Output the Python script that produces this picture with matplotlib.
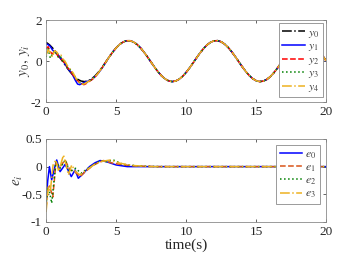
import matplotlib
matplotlib.use("Agg")
import matplotlib.pyplot as plt
import numpy as np

plt.rcParams["font.family"] = ["Liberation Serif", "DejaVu Serif"]
plt.rcParams["mathtext.fontset"] = "stix"

BLUE = "#0000ff"; RED = "#ff0000"; GREEN = "#008000"; YEL = "#edb120"; ORG = "#d95319"
DARK = "#262626"; EDGE = "#8a8a8a"

# reference y0, sampled every 0.25 s
t = np.arange(0, 20.01, 0.25)
y0 = [0.917, 0.791, 0.614, 0.400, 0.161, -0.088, -0.332, -0.555, -0.744, -0.886,
      -0.973, -1.000, -0.964, -0.869, -0.720, -0.525, -0.299, -0.053, 0.196, 0.432,
      0.642, 0.812, 0.931, 0.992, 0.992, 0.930, 0.810, 0.640, 0.430, 0.194,
      -0.055, -0.301, -0.527, -0.722, -0.870, -0.965, -1.000, -0.973, -0.885, -0.742,
      -0.553, -0.330, -0.086, 0.163, 0.402, 0.616, 0.792, 0.918, 0.988, 0.996,
      0.942, 0.829, 0.665, 0.459, 0.226, -0.022, -0.269, -0.498, -0.698, -0.853,
      -0.957, -0.999, -0.979, -0.899, -0.766, -0.581, -0.362, -0.119, 0.130, 0.371,
      0.589, 0.771, 0.905, 0.982, 0.998, 0.952, 0.847, 0.690, 0.489, 0.259, 0.011]

# followers, transient part (afterwards they sit on y0)
tt = [0, 0.15, 0.3, 0.45, 0.6, 0.75, 0.9, 1.05, 1.2, 1.35, 1.5, 1.65, 1.8, 1.95,
      2.1, 2.25, 2.4, 2.55, 2.7, 2.85, 3.0, 3.25, 3.5, 3.75, 4.0, 4.25]
y1 = [0.85, 0.80, 0.72, 0.55, 0.45, 0.42, 0.25, 0.12, 0.05, -0.15, -0.30, -0.45, -0.55,
      -0.75, -0.95, -1.12, -1.15, -1.10, -1.05, -1.0, -0.98, -0.90, -0.76, -0.57, -0.34, -0.08]
y2 = [0.6, 0.7, 0.45, 0.35, 0.45, 0.35, 0.2, 0.15, 0.0, -0.1, -0.3, -0.4, -0.55,
      -0.7, -0.85, -0.95, -1.05, -1.1, -1.15, -1.1, -1.02, -0.92, -0.77, -0.56, -0.32, -0.06]
y3 = [0.2, 0.6, 0.15, 0.35, 0.5, 0.35, 0.15, 0.2, 0.0, -0.05, -0.3, -0.35, -0.5,
      -0.65, -0.8, -0.95, -1.05, -1.1, -1.1, -1.08, -1.0, -0.9, -0.75, -0.55, -0.32, -0.07]
y4 = [0.3, 0.55, 0.4, 0.2, 0.5, 0.45, 0.3, 0.3, 0.1, 0.0, -0.2, -0.35, -0.45,
      -0.6, -0.8, -0.95, -1.05, -1.12, -1.12, -1.06, -1.0, -0.9, -0.76, -0.56, -0.32, -0.07]

# errors
te0 = [0, 0.12, 0.24, 0.4, 0.58, 0.76, 1.0, 1.2, 1.36, 1.6, 1.8, 2.07, 2.3, 2.67, 3.1, 3.5, 3.86, 4.3, 5.0, 5.8, 7, 20]
e0 = [-0.63, -0.25, 0.0, -0.24, -0.05, 0.12, -0.09, -0.02, 0.04, -0.08, -0.18, -0.06, -0.21, -0.12,
      0.0, 0.07, 0.11, 0.09, 0.03, 0.0, 0.0, 0.0]
te1 = [0, 0.12, 0.25, 0.48, 0.7, 1.0, 1.36, 1.7, 2.0, 2.43, 2.8, 3.4, 4.1, 4.8, 5.6, 6.5, 8, 20]
e1 = [-0.73, -0.4, -0.35, -0.55, 0.06, 0.0, 0.12, -0.06, -0.08, -0.18, -0.09, 0.03, 0.11, 0.06,
      0.03, 0.01, 0.0, 0.0]
te2 = [0, 0.1, 0.24, 0.4, 0.55, 0.7, 1.0, 1.36, 1.7, 2.1, 2.5, 3.0, 3.86, 4.3, 4.8, 5.5, 6.7, 8, 20]
e2 = [-0.7, -0.4, -0.45, -0.66, -0.3, 0.09, -0.03, 0.12, -0.09, -0.03, -0.12, -0.03, 0.1, 0.09,
      0.12, 0.04, 0.01, 0.0, 0.0]
te3 = [0, 0.17, 0.3, 0.5, 0.7, 0.9, 1.24, 1.43, 1.6, 1.83, 2.1, 2.43, 2.9, 3.4, 3.86, 4.6, 5.3, 6.2, 7.5, 20]
e3 = [-0.82, -0.36, -0.45, 0.03, 0.12, -0.09, 0.21, 0.03, -0.15, 0.03, -0.09, -0.15, -0.06, 0.03,
      0.09, 0.12, 0.06, 0.02, 0.0, 0.0]


def style(ax):
    ax.tick_params(direction="in", top=True, right=True, labelsize=9.5, length=2.5,
                   color=DARK, labelcolor=DARK, width=0.5, pad=3)
    for s in ax.spines.values():
        s.set_color(EDGE); s.set_linewidth(0.6)
    ax.set_xlim(0, 20); ax.set_xticks([0, 5, 10, 15, 20])


def legend(ax, pad):
    lg = ax.legend(loc="upper right", fontsize=8.5, handlelength=1.9, labelspacing=0.05,
                   borderpad=0.3, handletextpad=0.3, fancybox=False, edgecolor=EDGE,
                   framealpha=1, borderaxespad=pad)
    lg.get_frame().set_linewidth(0.6)
    for tx in lg.get_texts():
        tx.set_color("#404040")


fig = plt.figure(figsize=(3.6, 2.54), dpi=100)
ax1 = fig.add_axes([0.128, 0.598, 0.778, 0.323])
ax2 = fig.add_axes([0.128, 0.126, 0.778, 0.327])

tail = list(t[18:]); y0t = y0[18:]
lw = 1.1
ax1.plot(t, y0, color="black", ls="-.", lw=lw, label="$y_0$")
ax1.plot(tt + tail, y1 + y0t, color=BLUE, ls="-", lw=lw, label="$y_1$")
ax1.plot(tt + tail, y2 + y0t, color=RED, ls="--", lw=lw, label="$y_2$")
ax1.plot(tt + tail, y3 + y0t, color=GREEN, ls=":", lw=lw, label="$y_3$")
ax1.plot(tt + tail, y4 + y0t, color=YEL, ls="-.", lw=lw, label="$y_4$")
ax1.set_ylim(-2, 2); ax1.set_yticks([-2, 0, 2]); ax1.set_yticklabels(["-2", "0", "2"])
ax1.set_ylabel("$y_0,\\, y_i$", fontsize=11, color="#404040", labelpad=-1)
style(ax1)
legend(ax1, 0.25)

ax2.plot(te0, e0, color=BLUE, ls="-", lw=lw, label="$e_0$")
ax2.plot(te1, e1, color=ORG, ls="--", lw=lw, label="$e_1$")
ax2.plot(te2, e2, color=GREEN, ls=":", lw=lw, label="$e_2$")
ax2.plot(te3, e3, color=YEL, ls="-.", lw=lw, label="$e_3$")
ax2.set_ylim(-1, 0.5); ax2.set_yticks([-1, -0.5, 0, 0.5])
ax2.set_yticklabels(["-1", "-0.5", "0", "0.5"])
ax2.set_ylabel("$e_i$", fontsize=11, color="#404040", labelpad=-3)
ax2.set_xlabel("time(s)", fontsize=11, color=DARK, labelpad=0)
style(ax2)
legend(ax2, 0.5)

fig.savefig("out.png", dpi=100, facecolor="white")
